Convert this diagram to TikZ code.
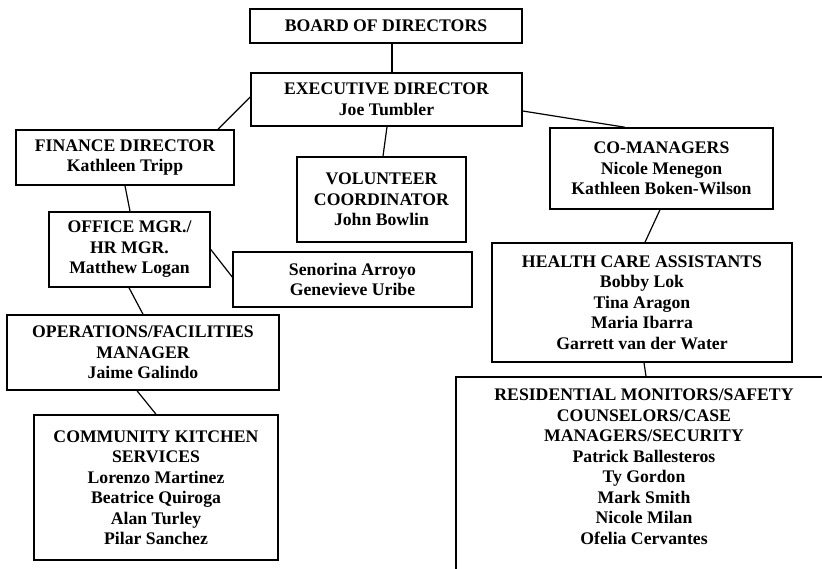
\documentclass[tikz,border=0pt]{standalone}
\usepackage{fontspec}
\setmainfont{Liberation Serif}
\begin{document}
\begin{tikzpicture}[x=1pt,y=-1pt,
  txt/.style={align=center, inner sep=0pt, font=\fontsize{17.7}{20.5}\selectfont\bfseries},
  box/.style={txt, draw, line width=1.5pt},
  conn/.style={line width=1.2pt}]
\useasboundingbox (0,0) rectangle (822,569);
\clip (0,0) rectangle (822,569);
\fill[white] (0,0) rectangle (822,569);
\node[box, minimum width=272pt, minimum height=34pt] (board) at (386,26) {BOARD OF DIRECTORS};
\node[box, minimum width=271pt, minimum height=53pt] (exec) at (386.5,99.5) {EXECUTIVE DIRECTOR\\Joe Tumbler};
\node[box, minimum width=218pt, minimum height=55pt] (fin) at (125,157.5) {FINANCE DIRECTOR\\Kathleen Tripp};
\node[box, minimum width=169pt, minimum height=85pt] (vol) at (381.5,199.5) {VOLUNTEER\\COORDINATOR\\John Bowlin};
\node[box, minimum width=223pt, minimum height=81pt] (comgr) at (661.5,168.5) {CO-MANAGERS\\Nicole Menegon\\Kathleen Boken-Wilson};
\node[box, minimum width=161pt, minimum height=75pt] (office) at (129.5,249.5) {OFFICE MGR./\\HR MGR.\\Matthew Logan};
\node[box, minimum width=239pt, minimum height=55pt] (seno) at (352.5,279.5) {Senorina Arroyo\\Genevieve Uribe};
\node[box, minimum width=300pt, minimum height=119pt] (health) at (642,302.5) {HEALTH CARE ASSISTANTS\\Bobby Lok\\Tina Aragon\\Maria Ibarra\\Garrett van der Water};
\node[box, minimum width=272pt, minimum height=75pt] (ops) at (143,352.5) {OPERATIONS/FACILITIES\\MANAGER\\Jaime Galindo};
\node[box, minimum width=244pt, minimum height=145pt] (kitchen) at (156,487.5) {COMMUNITY KITCHEN\\SERVICES\\Lorenzo Martinez\\Beatrice Quiroga\\Alan Turley\\Pilar Sanchez};
\node[box, minimum width=376pt, minimum height=223pt] (resid) at (644,488.5) {};
\node[txt] (residtxt) at (644,466.5) {RESIDENTIAL MONITORS/SAFETY\\COUNSELORS/CASE\\MANAGERS/SECURITY\\Patrick Ballesteros\\Ty Gordon\\Mark Smith\\Nicole Milan\\Ofelia Cervantes};
\draw[conn] ([xshift=6pt]board.south) -- ([xshift=5.5pt]exec.north);
\draw[conn] ([yshift=2.5pt]exec.west) -- ([xshift=93pt]fin.north);
\draw[conn] ([xshift=0.5pt]exec.south) -- ([xshift=1.5pt]vol.north);
\draw[conn] ([yshift=-11.5pt]exec.east) -- ([xshift=-36.5pt]comgr.north);
\draw[conn] (fin.south) -- ([xshift=0.5pt]office.north);
\draw[conn] (office.east) -- ([yshift=2.5pt]seno.west);
\draw[conn] ([xshift=-0.5pt]office.south) -- (ops.north);
\draw[conn] ([xshift=-6pt]ops.south) -- (kitchen.north);
\draw[conn] ([xshift=-1.5pt]comgr.south) -- ([xshift=3pt]health.north);
\draw[conn] ([xshift=2pt]health.south) -- ([xshift=2pt]resid.north);
\end{tikzpicture}
\end{document}
